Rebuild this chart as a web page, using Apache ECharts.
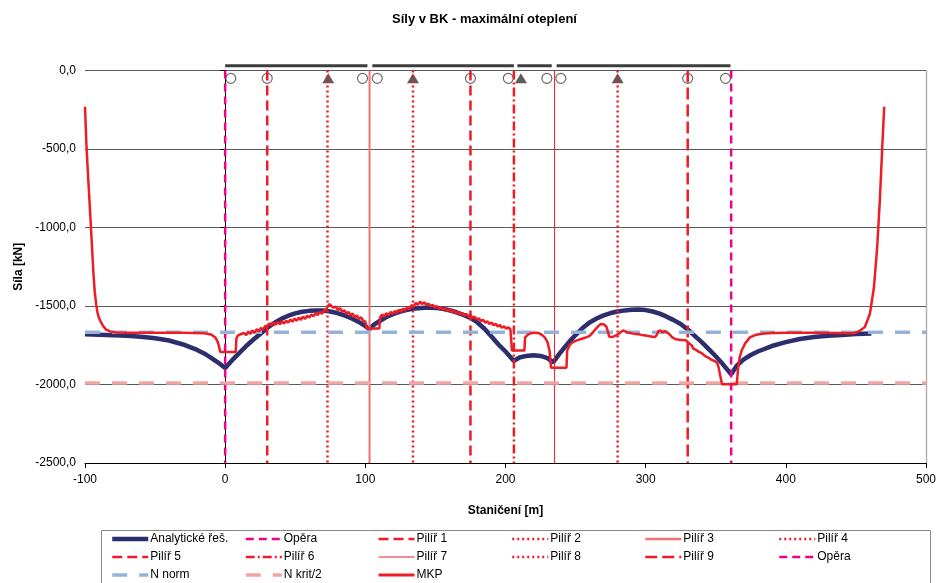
<!DOCTYPE html>
<html><head><meta charset="utf-8">
<script src="https://cdn.jsdelivr.net/npm/echarts/dist/echarts.min.js"></script>
<style>html,body{margin:0;padding:0;background:#fff}#c{width:939px;height:583px}</style>
</head><body><div id="c"></div>
<script>
const chartTitle = 'Síly v BK - maximální oteplení';
const xName = 'Staničení [m]';
const yName = 'Síla [kN]';
const xTicks = { min: -100, max: 500, interval: 100 };
const yTicks = { min: -2500, max: 0, interval: 500 };

// Analytical solution
const analytic = [
[-100,-1680],[-90,-1683],[-80,-1686],[-70,-1690],[-60,-1696],[-50,-1705],[-40,-1720],[-30,-1745],[-20,-1780],[-15,-1802],[-10,-1830],[-5,-1860],[0,-1895],
[5,-1845],[10,-1800],[15,-1755],[20,-1715],[25,-1678],[30,-1640],[35,-1608],[40,-1582],[45,-1562],[50,-1547],[55,-1537],[60,-1531],[65,-1528],[70,-1529],[75,-1535],[80,-1545],[85,-1560],[90,-1578],[95,-1600],[100,-1628],[103,-1648],
[106,-1620],[110,-1597],[115,-1570],[120,-1550],[125,-1535],[130,-1524],[135,-1516],[140,-1512],[145,-1510],[150,-1512],[155,-1518],[160,-1527],[165,-1540],[170,-1557],[175,-1576],[180,-1605],[185,-1645],[190,-1695],[195,-1745],[200,-1790],[206,-1850],
[210,-1828],[215,-1818],[220,-1814],[225,-1818],[230,-1832],[234,-1860],
[238,-1810],[242,-1765],[246,-1722],[250,-1685],[255,-1640],[260,-1605],[265,-1580],[270,-1560],[275,-1545],[280,-1535],[285,-1528],[290,-1524],[295,-1523],[300,-1526],[305,-1535],[310,-1549],[315,-1568],[320,-1590],[325,-1615],[330,-1650],[335,-1690],[340,-1730],[345,-1775],[350,-1820],[355,-1870],[361,-1935],
[365,-1880],[370,-1840],[375,-1812],[380,-1790],[390,-1755],[400,-1730],[410,-1710],[420,-1698],[430,-1690],[440,-1684],[450,-1679],[461,-1675]
];

// FEM (MKP) result
const mkp = [
[-100,-231],[-99,-470],[-98,-640],[-97,-800],[-96,-960],[-95,-1124],[-94,-1290],[-93,-1415],[-92,-1490],[-91,-1545],[-90,-1575],[-89,-1597],[-87,-1628],[-85,-1650],[-82,-1662],[-78,-1668],[-70,-1670],[-50,-1670],[-30,-1671],[-15,-1674],[-10,-1681],[-7,-1700],[-5,-1735],[-3.5,-1793],[7.5,-1793],[8,-1708],
[9,-1688],[10,-1700],[11,-1680],[12,-1692],[13.5,-1672],[15,-1686],[16.5,-1664],[18,-1678],[19.5,-1656],[21,-1670],[22.5,-1648],[24,-1662],[25.5,-1640],[27,-1652],[28.5,-1628],[30,-1628],[31.5,-1610],[33,-1624],[34.5,-1606],[36,-1620],[37.5,-1602],[39,-1616],[40.5,-1598],[42,-1612],[43.5,-1594],[45,-1606],[46.5,-1586],[48,-1600],[49.5,-1580],[51,-1594],[52.5,-1574],[54,-1588],[55.5,-1568],[57,-1582],[58.5,-1562],[60,-1574],[61.5,-1554],[63,-1566],[64.5,-1546],[66,-1558],[67.5,-1538],[69,-1550],[70.5,-1528],[72,-1524],[73,-1505],[74.5,-1488],
[76,-1502],[77.5,-1510],[79,-1504],[80.5,-1526],[82,-1514],[83.5,-1538],[85,-1526],[86.5,-1550],[88,-1538],[89.5,-1560],[91,-1548],[92.5,-1572],[94,-1560],[95.5,-1584],[97,-1572],[98.5,-1594],[100,-1600],[101,-1644],[110,-1644],[110.5,-1572],
[112,-1554],[113.5,-1568],[115,-1546],[116.5,-1560],[118,-1538],[119.5,-1552],[121,-1532],[122.5,-1546],[124,-1524],[125.5,-1538],[127,-1516],[128.5,-1530],[130,-1506],[131.5,-1520],[133,-1494],[134.5,-1504],[136,-1480],[137.5,-1492],[139,-1472],
[140.5,-1488],[142,-1476],[143.5,-1494],[145,-1484],[146.5,-1502],[148,-1492],[149.5,-1510],[151,-1500],[152.5,-1517],[154,-1506],[155.5,-1524],[157,-1514],[158.5,-1532],[160,-1520],[161.5,-1538],[163,-1528],[164.5,-1546],[166,-1536],[167.5,-1554],[169,-1544],[170.5,-1562],[172,-1550],[173.5,-1568],[175,-1556],[176.5,-1576],[178,-1568],[179.5,-1586],[181,-1578],[182.5,-1596],[184,-1588],[185.5,-1606],[187,-1598],[188.5,-1614],[190,-1606],[191.5,-1622],[193,-1614],[194.5,-1630],[196,-1622],[197.5,-1638],[199,-1630],[200.5,-1644],[202,-1636],[203.5,-1648],[204.5,-1650],[204.6,-1783],[213.5,-1783],
[214,-1700],[216,-1682],[218,-1674],[220,-1670],[222,-1670],[224,-1674],[226,-1684],[228,-1700],[230,-1730],[231.5,-1790],[232.5,-1893],[243.5,-1893],
[244,-1783],[246,-1745],[248,-1730],[250,-1722],[252,-1716],[254,-1710],[256,-1704],[258,-1698],[260,-1690],[262,-1672],[264,-1650],[266,-1630],[268,-1615],[269,-1612],[270.5,-1618],[272,-1632],[273,-1662],[274,-1696],[276,-1698],[278,-1690],[279.5,-1684],[281,-1676],[282.5,-1664],[284,-1656],[285.5,-1662],[287,-1668],[289,-1672],[291,-1676],[293,-1678],[295,-1680],[297,-1684],[299,-1686],[301,-1690],[303,-1693],[305,-1696],[306.5,-1698],[308,-1684],[309,-1660],[310.5,-1655],[312,-1668],[313.5,-1660],[315,-1666],[317,-1680],[319,-1700],[321,-1710],[323,-1714],[325,-1716],[327,-1716],[329,-1720],[331,-1738],[333,-1752],[334,-1772],[336,-1780],[338,-1792],[340,-1800],[341.5,-1812],[343,-1822],[345,-1830],[346.5,-1840],[348,-1846],[349.5,-1852],[351,-1862],[352,-1890],[353,-1935],[354.5,-1999],[365,-1999],
[366,-1889],[367,-1830],[368.5,-1783],[371,-1738],[374.4,-1700],[378,-1685],[383,-1677],[390,-1672],[400,-1671],[420,-1671],[440,-1672],[448,-1674],[452,-1662],[456.4,-1634],[460,-1549],[462.9,-1379],[465.2,-1124],[467.2,-805],[468.8,-486],[470.2,-231]
];

const pierNames = ['Opěra','Pilíř 1','Pilíř 2','Pilíř 3','Pilíř 4','Pilíř 5','Pilíř 6','Pilíř 7','Pilíř 8','Pilíř 9','Opěra'];
const pierX = [0, 30, 73, 103, 134, 175, 206, 235, 280, 330, 361];
const nNorm = -1667;
const nKrit2 = -1990;
const spans = [[0, 101.5], [105, 206], [208.5, 233], [236.5, 360.5]];
const spanLevel = 30;
const circleX = [4, 30, 98, 108.5, 175, 202, 229.5, 239.5, 330, 357];
const triangleX = [73.5, 134, 211, 280];
const supportLevel = -50;

// styles
const FONT = '"Liberation Sans", Arial, sans-serif';
const RED = '#ee1c25', MAG = '#ec008c';
const pierStyles = [
  { color: MAG, type: [8, 5], width: 2.5 },
  { color: RED, type: [10, 5], width: 2.5 },
  { color: RED, type: [2, 3], width: 2.5 },
  { color: '#f07272', type: 'solid', width: 2 },
  { color: RED, type: [2, 3], width: 2.5 },
  { color: RED, type: [10, 5], width: 2.5 },
  { color: RED, type: [9, 3, 2, 3], width: 2.5 },
  { color: RED, type: 'solid', width: 1 },
  { color: RED, type: [2, 3], width: 2.5 },
  { color: RED, type: [12, 5], width: 2.5 },
  { color: MAG, type: [8, 5], width: 2.5 }
];

const series = [];
series.push({ name: 'Analytické řeš.', type: 'line', data: analytic, symbol: 'none',
  lineStyle: { color: '#2d2e6e', width: 4.5 }, itemStyle: { color: '#2d2e6e' } });
pierNames.forEach((n, i) => {
  const st = pierStyles[i];
  series.push({ name: n, type: 'line', symbol: 'none',
    data: [[pierX[i], yTicks.max], [pierX[i], yTicks.min]],
    lineStyle: { color: st.color, type: st.type, width: st.width, cap: 'butt' }, itemStyle: { color: st.color } });
});
series.push({ name: 'N norm', type: 'line', symbol: 'none', data: [[xTicks.min, nNorm], [xTicks.max, nNorm]],
  lineStyle: { color: '#95b3d7', type: [15, 12], width: 3.5 }, itemStyle: { color: '#95b3d7' } });
series.push({ name: 'N krit/2', type: 'line', symbol: 'none', data: [[xTicks.min, nKrit2], [xTicks.max, nKrit2]],
  lineStyle: { color: '#f4a6a6', type: [15, 12], width: 3.5 }, itemStyle: { color: '#f4a6a6' } });
series.push({ name: 'MKP', type: 'line', symbol: 'none', data: mkp,
  lineStyle: { color: RED, width: 2.5 }, itemStyle: { color: RED } });
spans.forEach(s => {
  series.push({ name: 'span', type: 'line', symbol: 'none', clip: false, silent: true,
    data: [[s[0], spanLevel], [s[1], spanLevel]], lineStyle: { color: '#3c3c3c', width: 3 } });
});
series.push({ name: 'kloub', type: 'scatter', symbol: 'circle', symbolSize: 10,
  data: circleX.map(x => [x, supportLevel]),
  itemStyle: { color: 'rgba(0,0,0,0)', borderColor: '#444', borderWidth: 1.2 } });
series.push({ name: 'lozisko', type: 'scatter', symbol: 'triangle', symbolSize: [12, 10],
  data: triangleX.map(x => [x, supportLevel]), itemStyle: { color: '#333' } });

const legendCols = [
  { left: 110, items: [['Analytické řeš.', 4.5], ['Pilíř 5', 2.5], ['N norm', 3.5]] },
  { left: 244, items: [['Opěra', 2.5], ['Pilíř 6', 2.5], ['N krit/2', 3.5]] },
  { left: 377, items: [['Pilíř 1', 2.5], ['Pilíř 7', 1.2], ['MKP', 3]] },
  { left: 511, items: [['Pilíř 2', 2.5], ['Pilíř 8', 2.5]] },
  { left: 644, items: [['Pilíř 3', 2.5], ['Pilíř 9', 2.5]] },
  { left: 778, items: [['Pilíř 4', 2.5], ['Opěra', 2.5]] }
];
const hiddenSymbol = { color: 'rgba(0,0,0,0)', borderColor: 'rgba(0,0,0,0)', borderWidth: 0, opacity: 0 };
const legends = legendCols.map(c => ({
  orient: 'vertical', left: c.left, top: 533, padding: 0, itemGap: 6,
  itemWidth: 36, itemHeight: 12, selectedMode: false,
  textStyle: { fontFamily: FONT, fontSize: 12, color: '#000', padding: [0, 0, 0, -3] },
  data: c.items.map(it => ({ name: it[0], lineStyle: { width: it[1] }, itemStyle: hiddenSymbol }))
}));

const chart = echarts.init(document.getElementById('c'), null, { renderer: 'canvas' });
chart.setOption({
  animation: false,
  backgroundColor: '#fff',
  title: { text: chartTitle, left: 387, top: 8,
    textStyle: { fontFamily: FONT, fontSize: 13, fontWeight: 'bold', color: '#000' } },
  grid: { left: 85, right: 13, top: 70.5, bottom: 120, containLabel: false },
  legend: legends,
  xAxis: { type: 'value', min: xTicks.min, max: xTicks.max, interval: xTicks.interval,
    name: xName, nameLocation: 'middle', nameGap: 42,
    nameTextStyle: { fontFamily: FONT, fontSize: 12, fontWeight: 'bold', color: '#000' },
    axisLine: { onZero: false, lineStyle: { color: '#000', width: 1 } },
    axisTick: { show: true, inside: false, length: 5, lineStyle: { color: '#000' } },
    axisLabel: { fontFamily: FONT, fontSize: 12, color: '#000', margin: 11 },
    splitLine: { show: false } },
  yAxis: { type: 'value', min: yTicks.min, max: yTicks.max, interval: yTicks.interval,
    name: yName, nameLocation: 'middle', nameGap: 60, nameRotate: 90,
    nameTextStyle: { fontFamily: FONT, fontSize: 12, fontWeight: 'bold', color: '#000' },
    axisLine: { show: true, lineStyle: { color: '#000', width: 1 } },
    axisTick: { show: true, inside: false, length: 5, lineStyle: { color: '#000' } },
    axisLabel: { fontFamily: FONT, fontSize: 12, color: '#000', margin: 9,
      formatter: v => v.toFixed(1).replace('.', ',') },
    splitLine: { show: true, lineStyle: { color: '#5a5a5a', width: 1 } } },
  graphic: [
    { type: 'rect', left: 99, top: 528, shape: { width: 829, height: 60 },
      style: { fill: 'none', stroke: '#888', lineWidth: 1 }, silent: true, z: -1 },
    { type: 'line', shape: { x1: 926.5, y1: 70.5, x2: 926.5, y2: 463 },
      style: { stroke: '#b8aeae', lineWidth: 1.5 }, silent: true }
  ],
  series: series
});
</script></body></html>
